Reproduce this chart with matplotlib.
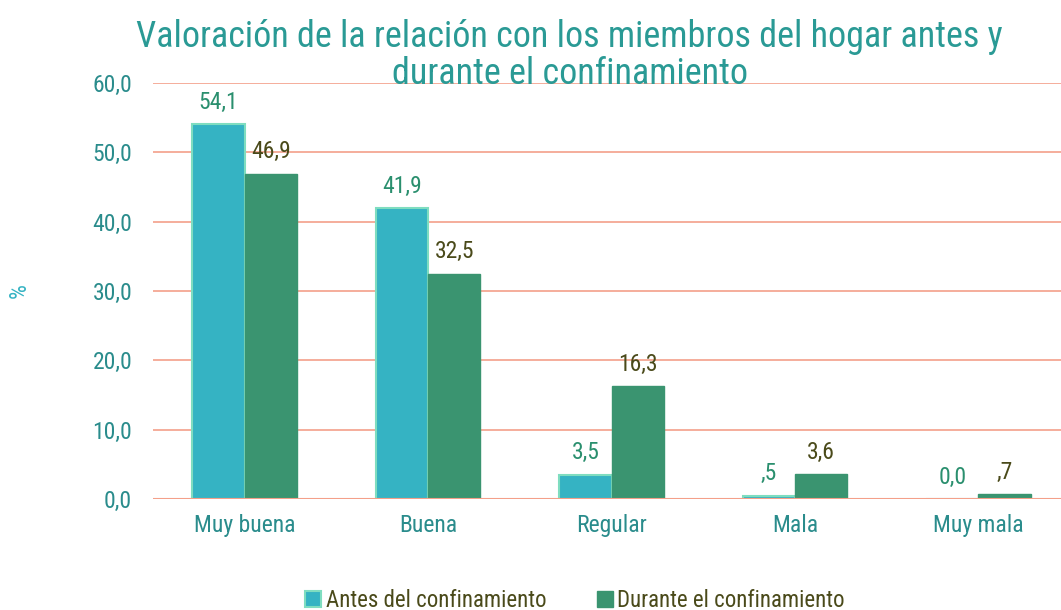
import matplotlib.pyplot as plt
import numpy as np

# datos
categorias = ['Muy buena', 'Buena', 'Regular', 'Mala', 'Muy mala']
antes = [54.1, 41.9, 3.5, 0.5, 0.0]
durante = [46.9, 32.5, 16.3, 3.6, 0.7]
etiquetas_antes = ['54,1', '41,9', '3,5', ',5', '0,0']
etiquetas_durante = ['46,9', '32,5', '16,3', '3,6', ',7']
yticks = [0, 10, 20, 30, 40, 50, 60]

plt.rcParams['font.family'] = ['Liberation Sans Narrow', 'Roboto Condensed', 'Roboto', 'DejaVu Sans']

fig = plt.figure(figsize=(10.61, 6.10), dpi=100)
ax = fig.add_axes([153 / 1061, 1 - 499 / 610, 1 - 153 / 1061, 416 / 610])

x = np.arange(len(categorias))
w = 0.285
b1 = ax.bar(x - w / 2, antes, w, color='#35B3C3', edgecolor='#7FDDC0', linewidth=1.5,
            label='Antes del confinamiento', zorder=3)
b2 = ax.bar(x + w / 2, durante, w, color='#3A9470', edgecolor='#3A9470', linewidth=1,
            label='Durante el confinamiento', zorder=3)

for xi, v, t in zip(x, antes, etiquetas_antes):
    ax.text(xi - w / 2, v + 1.5, t, ha='center', va='bottom', fontsize=17, color='#2A8F6E')
for xi, v, t in zip(x, durante, etiquetas_durante):
    ax.text(xi + w / 2, v + 1.5, t, ha='center', va='bottom', fontsize=17, color='#4A4A1A')

ax.set_xlim(-0.5, 4.45)
ax.set_ylim(0, 60)
ax.set_yticks(yticks)
ax.set_yticklabels([f'{v:.1f}'.replace('.', ',') for v in yticks])
ax.set_xticks(x)
ax.set_xticklabels(categorias)
ax.grid(axis='y', color='#F4A08A', linewidth=1.2, zorder=0)
ax.tick_params(axis='y', length=0, pad=15, labelsize=17, labelcolor='#2A8C8C')
ax.tick_params(axis='x', length=0, pad=11, labelsize=17, labelcolor='#2A8C8C')
for s in ax.spines.values():
    s.set_visible(False)
ax.axhline(0, color='#F4A08A', linewidth=1.5, zorder=4)

ax.set_ylabel('%', fontsize=17, color='#35B3C3')
ax.yaxis.set_label_coords(-0.135, 0.5)

fig.text(0.537, 0.909, 'Valoración de la relación con los miembros del hogar antes y\ndurante el confinamiento',
         ha='center', va='center', fontsize=26, color='#2A9A95', linespacing=1.05)

fig.legend(handles=[b1, b2], loc='center', bbox_to_anchor=(0.542, 0.016), ncol=2,
           frameon=False, fontsize=16.5, handlelength=0.7, handleheight=0.7,
           handletextpad=0.2, columnspacing=2.2, labelcolor='#4A4A1A')

fig.savefig('out.png', dpi=100)
